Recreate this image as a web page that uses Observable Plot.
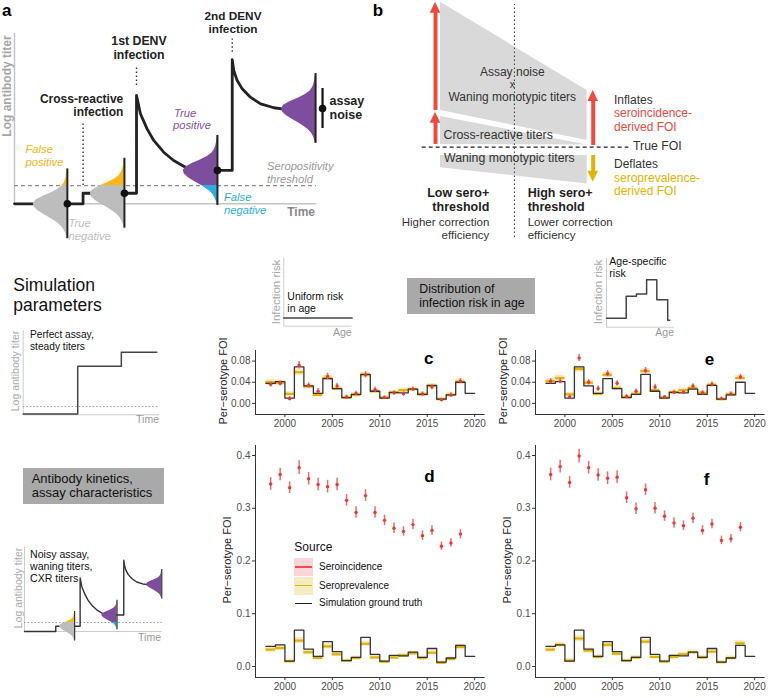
<!DOCTYPE html>
<html><head><meta charset="utf-8">
<script src="https://cdn.jsdelivr.net/npm/d3@7"></script>
<script src="https://cdn.jsdelivr.net/npm/@observablehq/plot@0.6"></script>
<style>
body{margin:0;background:#fff}
#root{position:relative;width:772px;height:698px;overflow:hidden;font-family:"Liberation Sans",Arial,Helvetica,sans-serif;color:#111;background:#fff}
.t{position:absolute;white-space:nowrap}
.bx{position:absolute}
</style></head><body><div id="root"></div><script>
// ---------------- DATA ----------------
// FOI panels (c–f)
const estYears   = [1998,1999,2000,2001,2002,2003,2004,2005,2006,2007,2008,2009,2010,2011,2012,2013,2014,2015,2016,2017,2018];
const truthYears = [1998,1999,2000,2001,2002,2003,2004,2005,2006,2007,2008,2009,2010,2011,2012,2013,2014,2015,2016,2017,2018,2019];
const truthFOI   = [0.038,0.041,0.010,0.069,0.033,0.019,0.047,0.028,0.011,0.017,0.055,0.023,0.010,0.021,0.020,0.027,0.017,0.034,0.008,0.016,0.040,0.019];
const truthEnd   = 2020;

const cIncidence  = [0.036,0.038,0.009,0.072,0.034,0.023,0.051,0.033,0.012,0.019,0.054,0.026,0.011,0.020,0.018,0.027,0.018,0.031,0.007,0.016,0.042];
const cPrevalence = [0.040,0.039,0.018,0.059,0.032,0.016,0.048,0.028,0.011,0.016,0.054,0.023,0.011,0.020,0.025,0.027,0.017,0.033,0.008,0.016,0.041];
const eIncidence  = [0.042,0.042,0.012,0.086,0.040,0.028,0.056,0.038,0.013,0.023,0.062,0.031,0.012,0.021,0.021,0.033,0.020,0.036,0.009,0.018,0.050];
const ePrevalence = [0.042,0.048,0.017,0.065,0.039,0.018,0.054,0.029,0.012,0.018,0.061,0.025,0.011,0.021,0.025,0.029,0.020,0.035,0.008,0.017,0.048];
const dIncidence  = [0.346,0.364,0.339,0.377,0.356,0.345,0.341,0.345,0.315,0.292,0.324,0.292,0.277,0.262,0.256,0.269,0.248,0.258,0.228,0.234,0.251];
const dPrevalence = [0.032,0.035,0.010,0.049,0.027,0.016,0.038,0.023,0.011,0.016,0.043,0.017,0.009,0.017,0.021,0.025,0.016,0.026,0.007,0.014,0.037];
const fIncidence  = [0.364,0.379,0.349,0.399,0.377,0.363,0.357,0.359,0.320,0.299,0.335,0.300,0.285,0.272,0.267,0.281,0.258,0.270,0.239,0.242,0.264];
const fPrevalence = [0.032,0.041,0.011,0.053,0.030,0.018,0.041,0.024,0.011,0.017,0.047,0.018,0.009,0.018,0.023,0.027,0.017,0.028,0.008,0.016,0.044];
// uncertainty half-widths
const incErrSmall  = [0.005,0.005,0.004,0.007,0.005,0.005,0.006,0.005,0.004,0.004,0.006,0.005,0.003,0.004,0.004,0.004,0.004,0.005,0.003,0.004,0.005];
const incErrLarge  = [0.012,0.012,0.011,0.013,0.012,0.012,0.012,0.012,0.011,0.011,0.011,0.011,0.010,0.010,0.009,0.010,0.009,0.009,0.008,0.008,0.009];
const prevBandSmall= [0.005,0.005,0.004,0.006,0.005,0.004,0.005,0.004,0.003,0.004,0.005,0.004,0.003,0.004,0.004,0.004,0.004,0.004,0.003,0.004,0.005];
const prevBandLarge= [0.005,0.005,0.004,0.006,0.005,0.004,0.005,0.004,0.003,0.004,0.005,0.004,0.003,0.004,0.004,0.004,0.004,0.004,0.003,0.004,0.005];
const xTicks = [2000,2005,2010,2015,2020];
const yTicksSmall = [0, 0.04, 0.08];
const yTicksLarge = [0, 0.1, 0.2, 0.3, 0.4];

// Panel a schematic (time & log-titer in arbitrary units 0–100)
const titerTime  = [0, 22.7, 22.7, 40.4, 40.4, 41.7, 43.9, 46.1, 49.4, 52.7, 56.6, 61.6, 67.2, 72.1, 72.1, 72.6, 73.7, 75.4, 78.1, 81.5, 85.9, 89.2, 93];
const titerLevel = [0, 0, 6.2, 6.2, 63.6, 52.9, 44.0, 37.2, 30.3, 25.4, 21.5, 19.6, 19.6, 19.6, 84.6, 78.3, 72.5, 67.5, 62.6, 58.7, 56.4, 55.6, 55.4];
const seroThreshold = 10.7;
const distTime  = [17.5, 36.4, 67.2, 99.7];
const distLevel = [0, 6.2, 19.6, 56];
const distBelow = ["#bdbdbd", "#bdbdbd", "#29aee2", "#29aee2"];
const distAbove = ["#fbb714", "#fbb714", "#7e4e9e", "#7e4e9e"];
const distProfile = [0.01,0.03,0.07,0.13,0.22,0.36,0.52,0.70,0.86,0.97,1,0.93,0.74,0.50,0.30,0.16,0.09,0.05,0.03,0.015,0.005];
const infectionTime = [22.7, 40.4, 72.1];
const infectionFrom = [10.7, 69.4, 89];
const infectionTo   = [47.9, 81.2, 96.8];
const noiseTime = 102, noiseLevel = 56, noiseLo = 44.2, noiseHi = 67.7;

// Small schematics
const perfectTime  = [0, 40, 72, 98];
const perfectTiter = [1, 57.6, 74.2, 74.2];
const perfectThreshold = 9.8;
const uniformAge  = [0, 100];
const uniformRisk = [12, 12];
const ageBreaks = [0, 29, 44, 59, 74, 90, 93];
const ageRisk   = [13, 45, 48.5, 69, 40, 10, 10];

// Panel b (x: threshold low→high, y: bias relative to true FOI)
const biasX = [0, 100];
const noiseWaningLo = [25.3, 4.6], noiseWaningHi = [100, 39.1];
const crossLo = [1.9, 1.5], crossHi = [21.2, 1.5];
const waningLo = [-14.2, -25.3], waningHi = [-5.7, -5.7];
const arrowX    = [-3.4, -3.4, 104.1, 104.1];
const arrowFrom = [25.3, 1.9, 1.2, -5.7];
const arrowTo   = [100, 24.1, 39.1, -24.1];
const arrowCol  = ["#f04a3e", "#f04a3e", "#f04a3e", "#e2b300"];

// ---------------- HELPERS ----------------
const root = document.getElementById('root');
const FONT = '"Liberation Sans", Arial, Helvetica, sans-serif';
const plotStyle = {background: 'transparent', overflow: 'visible', fontFamily: FONT};
function T(str, x, y, o = {}) {
  const d = document.createElement('div');
  d.className = 't';
  d.textContent = str;
  const fs = o.size || 12;
  const L = o.lh || 0.8;
  d.style.fontSize = fs + 'px';
  d.style.lineHeight = L;
  d.style.left = x + 'px';
  if (o.bold) d.style.fontWeight = 'bold';
  if (o.italic) d.style.fontStyle = 'italic';
  d.style.color = o.color || '#111';
  if (o.rotate) {
    d.style.lineHeight = 1;
    d.style.top = y + 'px';
    d.style.transform = 'translate(-50%,-50%) rotate(-90deg)';
  } else {
    d.style.top = (y - fs * (L / 2 - 0.0135)) + 'px';
    const tx = o.anchor === 'middle' ? '-50%' : o.anchor === 'end' ? '-100%' : '0';
    d.style.transform = `translateX(${tx})`;
  }
  root.appendChild(d);
}
function box(x, y, w, h, bg) {
  const d = document.createElement('div');
  d.className = 'bx';
  Object.assign(d.style, {left: x + 'px', top: y + 'px', width: w + 'px', height: h + 'px', background: bg});
  root.appendChild(d);
  return d;
}
function place(svg, left, top) {
  svg.style.position = 'absolute';
  svg.style.left = left + 'px';
  svg.style.top = top + 'px';
  root.appendChild(svg);
}

// ---------------- FOI PANELS ----------------
function foiPanel({left, top, height, marginTop, yDomain, yTicks, fmt, inc, incErr, prev, band}) {
  const est = estYears.map((yr, i) => ({
    yr, yr2: yr + 1, mid: yr + 0.5,
    inc: inc[i], lo: inc[i] - incErr[i], hi: inc[i] + incErr[i],
    prev: prev[i], plo: prev[i] - band[i], phi: prev[i] + band[i]
  }));
  const truth = truthYears.map((yr, i) => ({yr, v: truthFOI[i]}));
  truth.push({yr: truthEnd, v: truthFOI[truthFOI.length - 1]});
  const xDom = [1996.9, 2021.1];
  const svg = Plot.plot({
    width: 290, height, marginLeft: 55, marginRight: 5.4, marginTop, marginBottom: 21,
    style: plotStyle,
    x: {domain: xDom}, y: {domain: yDomain},
    marks: [
      Plot.rect(est, {x1: 'yr', x2: 'yr2', y1: 'plo', y2: 'phi', fill: '#f3e3a3', fillOpacity: 0.75}),
      Plot.ruleY(est, {x1: 'yr', x2: 'yr2', y: 'prev', stroke: '#e2b100', strokeWidth: 2.2}),
      Plot.line(truth, {x: 'yr', y: 'v', curve: 'step-after', stroke: '#333', strokeWidth: 1.3}),
      Plot.ruleX(est, {x: 'mid', y1: 'lo', y2: 'hi', stroke: '#f46a6a', strokeWidth: 1.5}),
      Plot.dot(est, {x: 'mid', y: 'inc', r: 1.7, fill: '#ee3535'}),
      Plot.ruleX([xDom[0]], {stroke: '#333', strokeWidth: 1}),
      Plot.ruleY([yDomain[0]], {stroke: '#333', strokeWidth: 1}),
      Plot.axisX({ticks: xTicks, tickFormat: d => String(d), tickSize: 3, tickPadding: 2, fontSize: 10, stroke: '#333', fill: '#4d4d4d', label: null}),
      Plot.axisY({ticks: yTicks, tickFormat: fmt, tickSize: 3, tickPadding: 2, fontSize: 10, stroke: '#333', fill: '#4d4d4d', label: null})
    ]
  });
  place(svg, left, top);
}
const f2 = d3.format('.2f'), f1 = d3.format('.1f');
foiPanel({left: 200, top: 335, height: 100, marginTop: 15, yDomain: [-0.021, 0.100], yTicks: yTicksSmall, fmt: f2, inc: cIncidence, incErr: incErrSmall, prev: cPrevalence, band: prevBandSmall});
foiPanel({left: 480, top: 335, height: 100, marginTop: 15, yDomain: [-0.021, 0.100], yTicks: yTicksSmall, fmt: f2, inc: eIncidence, incErr: incErrSmall, prev: ePrevalence, band: prevBandSmall});
foiPanel({left: 200, top: 440, height: 258, marginTop: 5, yDomain: [-0.021, 0.419], yTicks: yTicksLarge, fmt: f1, inc: dIncidence, incErr: incErrLarge, prev: dPrevalence, band: prevBandLarge});
foiPanel({left: 480, top: 440, height: 258, marginTop: 5, yDomain: [-0.021, 0.419], yTicks: yTicksLarge, fmt: f1, inc: fIncidence, incErr: incErrLarge, prev: fPrevalence, band: prevBandLarge});

T('Per\u2212serotype FOI', 222.8, 381, {size: 11, rotate: true, color: '#222'});
T('Per\u2212serotype FOI', 503, 381, {size: 11, rotate: true, color: '#222'});
T('Per\u2212serotype FOI', 227, 560, {size: 11, rotate: true, color: '#222'});
T('Per\u2212serotype FOI', 507, 560, {size: 11, rotate: true, color: '#222'});
T('c', 428.8, 358.5, {size: 17, bold: true, anchor: 'middle', color: '#000'});
T('d', 429.5, 477, {size: 17, bold: true, anchor: 'middle', color: '#000'});
T('e', 709.5, 359.5, {size: 17, bold: true, anchor: 'middle', color: '#000'});
T('f', 706.7, 480, {size: 17, bold: true, anchor: 'middle', color: '#000'});

// legend in d
T('Source', 294.3, 547.5, {size: 12, color: '#111'});
function key(y, bg, line, lw, label) {
  const b = box(294.3, y - 9, 18.4, 18, bg);
  const l = document.createElement('div');
  Object.assign(l.style, {position: 'absolute', left: '1px', right: '1px', top: (9 - lw / 2) + 'px', height: lw + 'px', background: line});
  b.appendChild(l);
  T(label, 319, y, {size: 10, color: '#111'});
}
key(567, '#fbd6d6', '#f04d4d', 1.3, 'Seroincidence');
key(585.7, '#f6ecc2', '#e2b100', 1.5, 'Seroprevalence');
key(603.3, 'transparent', '#222', 1.3, 'Simulation ground truth');

// ---------------- PANEL a ----------------
function profAt(c, v, HS) {
  const idx = ((v - c) / HS + 1) * 10;
  if (idx <= 0) return distProfile[0];
  if (idx >= 20) return distProfile[20];
  const i = Math.floor(idx), f = idx - i;
  return distProfile[i] * (1 - f) + distProfile[Math.min(20, i + 1)] * f;
}
function distMarks(dists, thr, HS, W) {
  const marks = [];
  for (const d of dists) {
    const lo = d.v - HS, hi = d.v + HS;
    const segs = [[lo, Math.min(thr, hi), d.below], [Math.max(thr, lo), hi, d.above]];
    for (const [a, b, fill] of segs) {
      if (b <= a) continue;
      const vs = [a];
      distProfile.forEach((p, i) => { const v = d.v + (i / 10 - 1) * HS; if (v > a && v < b) vs.push(v); });
      vs.push(b);
      const pts = vs.map(v => ({v, x1: d.t - W * profAt(d.v, v, HS), x2: d.t}));
      marks.push(Plot.areaX(pts, {y: 'v', x1: 'x1', x2: 'x2', fill}));
    }
  }
  return marks;
}
const curve = titerTime.map((t, i) => ({t, v: titerLevel[i]}));
const dists = distTime.map((t, i) => ({t, v: distLevel[i], below: distBelow[i], above: distAbove[i]}));
const markers = infectionTime.map((t, i) => ({t, from: infectionFrom[i], to: infectionTo[i]}));
{
  const HS = 20.5, W = 11.3;
  const svg = Plot.plot({
    width: 390, height: 245, marginLeft: 14, marginRight: 74, marginTop: 33, marginBottom: 41.7,
    style: plotStyle, x: {domain: [0, 100], axis: null}, y: {domain: [0, 100], axis: null},
    marks: [
      Plot.ruleX([0], {y1: 0, y2: 100, stroke: '#c4c4c4', strokeWidth: 1.5}),
      Plot.ruleY([0], {x1: 0, x2: 100, stroke: '#c4c4c4', strokeWidth: 1.5}),
      Plot.ruleY([seroThreshold], {x1: 0, x2: 100, stroke: '#8c8c8c', strokeWidth: 1.4, strokeDasharray: '4,3'}),
      Plot.ruleX(markers, {x: 't', y1: 'from', y2: 'to', stroke: '#333', strokeWidth: 1.4, strokeDasharray: '1.5,2.5'}),
      Plot.line(curve, {x: 't', y: 'v', stroke: '#222', strokeWidth: 2.8}),
      ...distMarks(dists, seroThreshold, HS, W),
      Plot.ruleX(dists, {x: 't', y1: d => d.v - HS, y2: d => d.v + HS, stroke: '#222', strokeWidth: 2}),
      Plot.dot(dists.slice(0, 3), {x: 't', y: 'v', r: 3.8, fill: '#111'}),
      Plot.ruleX([noiseTime], {y1: noiseLo, y2: noiseHi, stroke: '#111', strokeWidth: 2.2}),
      Plot.dot([noiseTime], {x: d => d, y: noiseLevel, r: 3.8, fill: '#111'})
    ]
  });
  place(svg, 0, 0);
}
T('a', 2, 10.8, {size: 17, bold: true, color: '#000'});
T('Log antibody titer', 7, 86, {size: 12, bold: true, rotate: true, color: '#a6a6a6'});
T('2nd DENV', 233, 16.5, {size: 11.8, bold: true, anchor: 'middle', color: '#222'});
T('infection', 233, 29.8, {size: 11.8, bold: true, anchor: 'middle', color: '#222'});
T('1st DENV', 139, 42.2, {size: 12.3, bold: true, anchor: 'middle', color: '#222'});
T('infection', 139, 56.2, {size: 12.3, bold: true, anchor: 'middle', color: '#222'});
T('Cross-reactive', 123.3, 99.2, {size: 12, bold: true, anchor: 'end', color: '#222'});
T('infection', 123.3, 112.8, {size: 12, bold: true, anchor: 'end', color: '#222'});
T('False', 25.5, 149.5, {size: 11.2, italic: true, color: '#f9b30f'});
T('positive', 25.5, 162, {size: 11.2, italic: true, color: '#f9b30f'});
T('True', 174, 113, {size: 11.2, italic: true, color: '#8250a6'});
T('positive', 173, 125.6, {size: 11.2, italic: true, color: '#8250a6'});
T('Seropositivity', 267, 166.3, {size: 11.2, italic: true, color: '#999'});
T('threshold', 267, 178.9, {size: 11.2, italic: true, color: '#999'});
T('False', 224, 197.5, {size: 11.2, italic: true, color: '#29aee2'});
T('negative', 224, 210.1, {size: 11.2, italic: true, color: '#29aee2'});
T('True', 68.5, 223.5, {size: 11.2, italic: true, color: '#bdbdbd'});
T('negative', 68.5, 236.1, {size: 11.2, italic: true, color: '#bdbdbd'});
T('Time', 315, 213, {size: 12, bold: true, anchor: 'end', color: '#888'});
T('assay', 329.5, 101, {size: 12.5, bold: true, color: '#222'});
T('noise', 329.5, 115, {size: 12.5, bold: true, color: '#222'});

// ---------------- PANEL b ----------------
{
  const poly = (lo, hi) => biasX.map((u, i) => ({u, lo: lo[i], hi: hi[i]}));
  const arrows = arrowX.map((u, i) => ({u, from: arrowFrom[i], to: arrowTo[i], color: arrowCol[i], dir: Math.sign(arrowTo[i] - arrowFrom[i])}));
  const headH = 7.6, headW = 3.6;
  const headMarks = arrows.map(a => Plot.areaY([
    {u: a.u - headW, y1: a.to - a.dir * headH, y2: a.to - a.dir * headH},
    {u: a.u, y1: a.to - a.dir * headH, y2: a.to},
    {u: a.u + headW, y1: a.to - a.dir * headH, y2: a.to - a.dir * headH}
  ], {x: 'u', y1: 'y1', y2: 'y2', fill: a.color}));
  const svg = Plot.plot({
    width: 382, height: 245, marginLeft: 50, marginRight: 185.3, marginTop: 1.7, marginBottom: 98.3,
    style: plotStyle, x: {domain: [0, 100], axis: null}, y: {domain: [0, 100], axis: null},
    marks: [
      Plot.areaY(poly(noiseWaningLo, noiseWaningHi), {x: 'u', y1: 'lo', y2: 'hi', fill: '#d9d9d9'}),
      Plot.areaY(poly(crossLo, crossHi), {x: 'u', y1: 'lo', y2: 'hi', fill: '#d9d9d9'}),
      Plot.areaY(poly(waningLo, waningHi), {x: 'u', y1: 'lo', y2: 'hi', fill: '#d9d9d9'}),
      Plot.ruleY([0], {x1: -12.5, x2: 128.4, stroke: '#222', strokeWidth: 1.3, strokeDasharray: '4,3'}),
      Plot.ruleX([50.4], {y1: -62.3, y2: 98.4, stroke: '#444', strokeWidth: 1.1, strokeDasharray: '1.5,2.5'}),
      Plot.ruleX(arrows, {x: 'u', y1: 'from', y2: d => d.to - d.dir * (headH - 0.5), stroke: 'color', strokeWidth: 4}),
      ...headMarks
    ]
  });
  place(svg, 390, 0);
}
T('b', 378, 11, {size: 17, bold: true, anchor: 'middle', color: '#000'});
T('Assay noise', 512.3, 72.5, {size: 12, anchor: 'middle', color: '#333'});
T('x', 512.3, 85, {size: 10, anchor: 'middle', color: '#333'});
T('Waning monotypic titers', 512.3, 97.5, {size: 12, anchor: 'middle', color: '#333'});
T('Cross-reactive titers', 443.5, 135.7, {size: 12.3, color: '#333'});
T('Waning monotypic titers', 444, 159, {size: 12.3, color: '#333'});
T('True FOI', 633, 146.5, {size: 12.3, color: '#333'});
T('Inflates', 614, 100.5, {size: 12, color: '#333'});
T('seroincidence-', 614, 114, {size: 12, color: '#f04a3e'});
T('derived FOI', 614, 127.5, {size: 12, color: '#f04a3e'});
T('Deflates', 614, 165, {size: 12, color: '#333'});
T('seroprevalence-', 614, 178.5, {size: 12, color: '#e2b300'});
T('derived FOI', 614, 192, {size: 12, color: '#e2b300'});
T('Low sero+', 489.3, 193, {size: 12.5, bold: true, anchor: 'end', color: '#222'});
T('threshold', 489.3, 207, {size: 12.5, bold: true, anchor: 'end', color: '#222'});
T('Higher correction', 489.3, 222, {size: 11.5, anchor: 'end', color: '#333'});
T('efficiency', 489.3, 235, {size: 11.5, anchor: 'end', color: '#333'});
T('High sero+', 527.7, 193, {size: 12.5, bold: true, color: '#222'});
T('threshold', 527.7, 207, {size: 12.5, bold: true, color: '#222'});
T('Lower correction', 527.7, 222, {size: 11.5, color: '#333'});
T('efficiency', 527.7, 235, {size: 11.5, color: '#333'});

// ---------------- LEFT COLUMN ----------------
T('Simulation', 13.3, 285, {size: 17.5, color: '#111'});
T('parameters', 13.3, 304.5, {size: 17.5, color: '#111'});
{
  const data = perfectTime.map((t, i) => ({t, v: perfectTiter[i]}));
  const svg = Plot.plot({
    width: 175, height: 110, marginLeft: 22.7, marginRight: 16, marginTop: 10, marginBottom: 15.7,
    style: plotStyle, x: {domain: [0, 100], axis: null}, y: {domain: [0, 100], axis: null},
    marks: [
      Plot.ruleX([0], {y1: 0, y2: 100, stroke: '#ccc', strokeWidth: 1}),
      Plot.ruleY([0], {x1: 0, x2: 100, stroke: '#ccc', strokeWidth: 1}),
      Plot.ruleY([perfectThreshold], {x1: 0, x2: 100, stroke: '#999', strokeWidth: 1, strokeDasharray: '1.5,2'}),
      Plot.line(data, {x: 't', y: 'v', curve: 'step-after', stroke: '#444', strokeWidth: 1.5})
    ]
  });
  place(svg, 0, 320);
}
T('Perfect assay,', 30, 335, {size: 10.2});
T('steady titers', 30, 346.5, {size: 10.2});
T('Log antibody titer', 15, 371, {size: 10.5, rotate: true, color: '#aaa'});
T('Time', 159, 419, {size: 10.5, anchor: 'end', color: '#999'});

box(22.7, 468.3, 141.3, 35.7, '#a9a9a9');
T('Antibody kinetics,', 31.7, 478.8, {size: 13, color: '#111'});
T('assay characteristics', 31.7, 493.3, {size: 13, color: '#111'});

{
  const HS = 17.5, W = 11;
  const svg = Plot.plot({
    width: 175, height: 130, marginLeft: 24, marginRight: 13.3, marginTop: 26.7, marginBottom: 19,
    style: plotStyle, x: {domain: [0, 100], axis: null}, y: {domain: [0, 100], axis: null},
    marks: [
      Plot.ruleX([0], {y1: 0, y2: 100, stroke: '#ccc', strokeWidth: 1}),
      Plot.ruleY([0], {x1: 0, x2: 100, stroke: '#ccc', strokeWidth: 1}),
      Plot.ruleY([seroThreshold], {x1: 0, x2: 100, stroke: '#999', strokeWidth: 1, strokeDasharray: '1.5,2'}),
      Plot.line(curve, {x: 't', y: 'v', stroke: '#333', strokeWidth: 1.4}),
      ...distMarks(dists.slice(1), seroThreshold, HS, W),
      Plot.ruleX(dists.slice(1), {x: 't', y1: d => d.v - HS, y2: d => d.v + HS, stroke: '#333', strokeWidth: 1.2})
    ]
  });
  place(svg, 0, 520);
}
T('Noisy assay,', 30, 554.5, {size: 10.6});
T('waning titers,', 30, 566.5, {size: 10.6});
T('CXR titers', 30, 578.5, {size: 10.6});
T('Log antibody titer', 18, 588, {size: 10.5, rotate: true, color: '#aaa'});
T('Time', 161, 637, {size: 10.5, anchor: 'end', color: '#999'});

// ---------------- TOP-MIDDLE (age risk) ----------------
{
  const data = uniformAge.map((a, i) => ({a, r: uniformRisk[i]}));
  const svg = Plot.plot({
    width: 90, height: 90, marginLeft: 13.3, marginRight: 8.3, marginTop: 8, marginBottom: 14.3,
    style: plotStyle, x: {domain: [0, 100], axis: null}, y: {domain: [0, 100], axis: null},
    marks: [
      Plot.ruleX([0], {y1: 0, y2: 100, stroke: '#ccc', strokeWidth: 1}),
      Plot.ruleY([0], {x1: 0, x2: 100, stroke: '#ccc', strokeWidth: 1}),
      Plot.line(data, {x: 'a', y: 'r', stroke: '#444', strokeWidth: 1.5})
    ]
  });
  place(svg, 270, 250);
}
T('Infection risk', 276.5, 292, {size: 11.5, rotate: true, color: '#aaa'});
T('Uniform risk', 287.3, 296, {size: 10.5});
T('in age', 287.3, 308, {size: 10.5});
T('Age', 351.7, 332, {size: 10.5, anchor: 'end', color: '#999'});

box(407.3, 278.3, 127.7, 35.7, '#a9a9a9');
T('Distribution of', 419.3, 289.3, {size: 12.3, color: '#111'});
T('infection risk in age', 419.3, 303.3, {size: 12.3, color: '#111'});

{
  const data = ageBreaks.map((a, i) => ({a, r: ageRisk[i]}));
  const svg = Plot.plot({
    width: 90, height: 90, marginLeft: 16, marginRight: 6, marginTop: 8, marginBottom: 13.3,
    style: plotStyle, x: {domain: [0, 100], axis: null}, y: {domain: [0, 100], axis: null},
    marks: [
      Plot.ruleX([0], {y1: 0, y2: 100, stroke: '#ccc', strokeWidth: 1}),
      Plot.ruleY([0], {x1: 0, x2: 100, stroke: '#ccc', strokeWidth: 1}),
      Plot.line(data, {x: 'a', y: 'r', curve: 'step-after', stroke: '#444', strokeWidth: 1.5})
    ]
  });
  place(svg, 590, 250);
}
T('Infection risk', 599, 292, {size: 11.5, rotate: true, color: '#aaa'});
T('Age-specific', 609.3, 261.3, {size: 10.5});
T('risk', 609.3, 273.3, {size: 10.5});
T('Age', 674, 332.5, {size: 10.5, anchor: 'end', color: '#999'});
</script></body></html>
